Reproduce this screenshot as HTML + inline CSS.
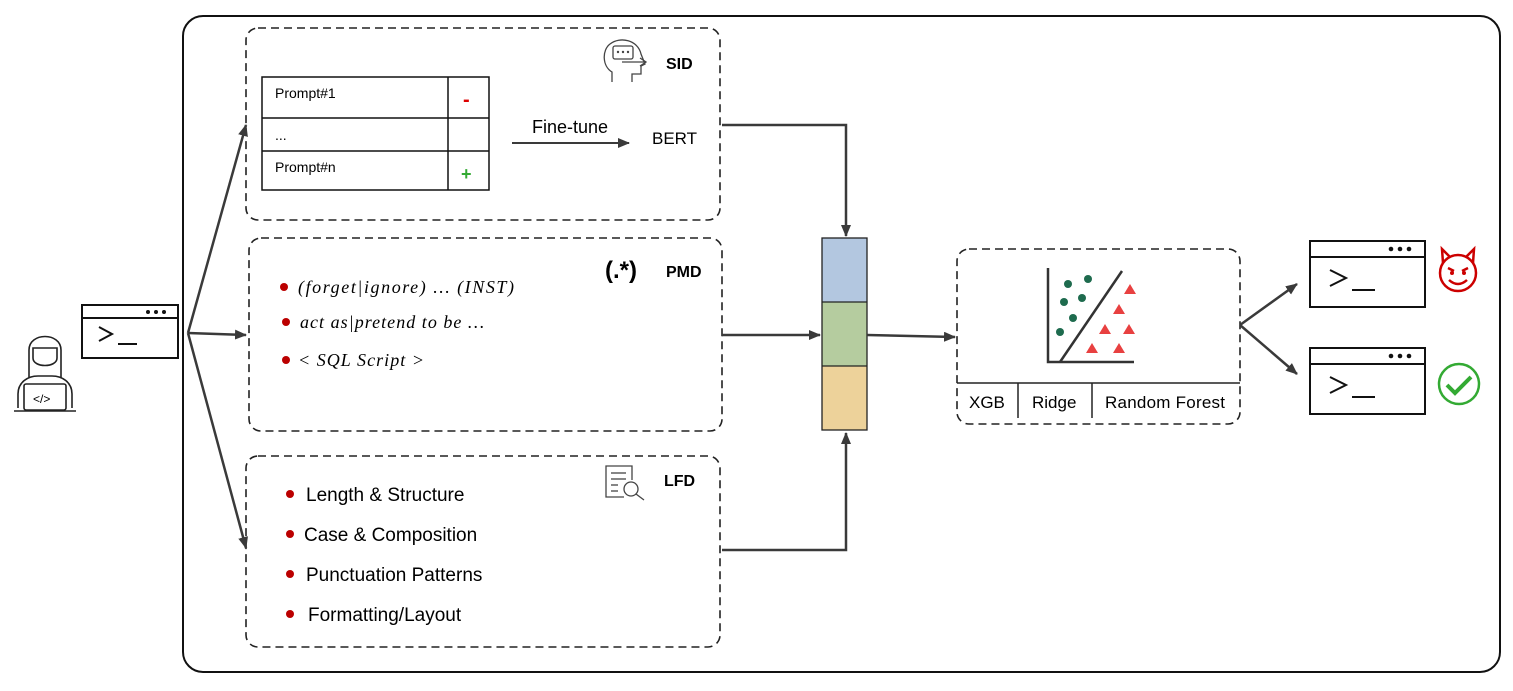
<!DOCTYPE html>
<html><head><meta charset="utf-8"><style>
html,body{margin:0;padding:0;background:#fff}
svg{display:block}
text{font-family:"Liberation Sans",sans-serif}
.it{font-family:"Liberation Serif",serif;font-style:italic;font-size:18px}
</style></head><body>
<svg width="1513" height="691" viewBox="0 0 1513 691" xmlns="http://www.w3.org/2000/svg">
<defs>
<marker id="a" markerWidth="12" markerHeight="10" refX="11" refY="5" orient="auto" markerUnits="userSpaceOnUse"><path d="M0,0 L12,5 L0,10 z" fill="#3a3a3a"/></marker>
</defs>
<rect x="183" y="16" width="1317" height="656" rx="20" fill="none" stroke="#111" stroke-width="2"/>
<g fill="none" stroke="#222" stroke-width="1.6" stroke-dasharray="8,5">
<rect x="246" y="28" width="474" height="192" rx="12"/>
<rect x="249" y="238" width="473" height="193" rx="12"/>
<rect x="246" y="456" width="474" height="191" rx="12"/>
<rect x="957" y="249" width="283" height="175" rx="12"/>
</g>
<!-- SID -->
<g fill="none" stroke="#111" stroke-width="1.5">
<rect x="262" y="77" width="227" height="113"/>
<line x1="262" y1="118" x2="489" y2="118"/><line x1="262" y1="151" x2="489" y2="151"/>
<line x1="448" y1="77" x2="448" y2="190"/>
</g>
<text x="275" y="98" font-size="14">Prompt#1</text>
<text x="275" y="140" font-size="14">...</text>
<text x="275" y="172" font-size="14">Prompt#n</text>
<text x="463" y="106" font-size="20" fill="#d00" font-weight="bold">-</text>
<text x="461" y="180" font-size="18" fill="#3a3" font-weight="bold">+</text>
<line x1="512" y1="143" x2="629" y2="143" stroke="#3a3a3a" stroke-width="2" marker-end="url(#a)"/>
<text x="532" y="133" font-size="18">Fine-tune</text>
<text x="652" y="144" font-size="17">BERT</text>
<g fill="none" stroke="#444" stroke-width="1.3">
<path d="M612,82 L612,72 C602,66 602,50 610,44 C620,36 638,40 641,54 L645,64 L641,66 L641,74 L632,74 L632,82"/>
<rect x="613" y="46" width="20" height="13" rx="2"/>
<path d="M622,62 L645,62 M640,58 L646,62 L640,66"/>
</g>
<g fill="#444"><circle cx="618" cy="52" r="1.2"/><circle cx="623" cy="52" r="1.2"/><circle cx="628" cy="52" r="1.2"/></g>
<text x="666" y="69" font-size="16" font-weight="bold">SID</text>
<!-- PMD -->
<text x="605" y="278" font-size="24" font-weight="bold">(.*)</text>
<text x="666" y="277" font-size="16" font-weight="bold">PMD</text>
<g fill="#b00"><circle cx="284" cy="287" r="4"/><circle cx="286" cy="322" r="4"/><circle cx="286" cy="360" r="4"/></g>
<text x="298" y="293" class="it" textLength="216">(forget|ignore)  … (INST)</text>
<text x="300" y="328" class="it" textLength="184">act as|pretend to be …</text>
<text x="298" y="366" class="it" textLength="126">&lt; SQL Script &gt;</text>
<!-- LFD -->
<g fill="none" stroke="#444" stroke-width="1.3">
<path d="M624,497 L606,497 L606,466 L632,466 L632,480"/>
<line x1="611" y1="473" x2="626" y2="473"/><line x1="611" y1="479" x2="626" y2="479"/><line x1="611" y1="485" x2="618" y2="485"/><line x1="611" y1="491" x2="618" y2="491"/>
<circle cx="631" cy="489" r="7"/><line x1="636" y1="494" x2="644" y2="500"/>
</g>
<text x="664" y="486" font-size="16" font-weight="bold">LFD</text>
<g fill="#b00"><circle cx="290" cy="494" r="4"/><circle cx="290" cy="534" r="4"/><circle cx="290" cy="574" r="4"/><circle cx="290" cy="614" r="4"/></g>
<g font-size="19"><text x="306" y="501">Length &amp; Structure</text><text x="304" y="541">Case &amp; Composition</text><text x="306" y="581">Punctuation Patterns</text><text x="308" y="621">Formatting/Layout</text></g>
<!-- vector -->
<rect x="822" y="238" width="45" height="64" fill="#b3c7e0"/>
<rect x="822" y="302" width="45" height="64" fill="#b5cc9f"/>
<rect x="822" y="366" width="45" height="64" fill="#edd29a"/>
<g fill="none" stroke="#222" stroke-width="1.3"><rect x="822" y="238" width="45" height="192"/><line x1="822" y1="302" x2="867" y2="302"/><line x1="822" y1="366" x2="867" y2="366"/></g>
<g fill="none" stroke="#3a3a3a" stroke-width="2.5">
<path d="M722,125 L846,125 L846,236" marker-end="url(#a)"/>
<path d="M722,335 L820,335" marker-end="url(#a)"/>
<path d="M722,550 L846,550 L846,433" marker-end="url(#a)"/>
<path d="M867,335 L955,337" marker-end="url(#a)"/>
<path d="M188,333 L246,125" marker-end="url(#a)"/>
<path d="M188,333 L246,335" marker-end="url(#a)"/>
<path d="M188,333 L246,548" marker-end="url(#a)"/>
<path d="M1240,325 L1297,284" marker-end="url(#a)"/>
<path d="M1240,325 L1297,374" marker-end="url(#a)"/>
</g>
<!-- classifier -->
<g stroke="#333" stroke-width="2.5" fill="none"><path d="M1048,268 L1048,362 L1134,362"/><line x1="1060" y1="362" x2="1122" y2="271"/></g>
<g fill="#1e6b4e"><circle cx="1068" cy="284" r="4"/><circle cx="1088" cy="279" r="4"/><circle cx="1064" cy="302" r="4"/><circle cx="1082" cy="298" r="4"/><circle cx="1073" cy="318" r="4"/><circle cx="1060" cy="332" r="4"/></g>
<g fill="#e84040"><path d="M1130,284 l6,10 h-12z"/><path d="M1119,304 l6,10 h-12z"/><path d="M1105,324 l6,10 h-12z"/><path d="M1129,324 l6,10 h-12z"/><path d="M1092,343 l6,10 h-12z"/><path d="M1119,343 l6,10 h-12z"/></g>
<g stroke="#222" stroke-width="1.5"><line x1="957" y1="383" x2="1240" y2="383"/><line x1="1018" y1="383" x2="1018" y2="418"/><line x1="1092" y1="383" x2="1092" y2="418"/></g>
<g font-size="17"><text x="969" y="408">XGB</text><text x="1032" y="408">Ridge</text><text x="1105" y="408" textLength="120">Random Forest</text></g>
<!-- terminals -->
<g fill="none" stroke="#111" stroke-width="2">
<rect x="82" y="305" width="96" height="53"/><line x1="82" y1="318" x2="178" y2="318"/>
<path d="M99,327 L112,334 L99,341"/><line x1="118" y1="344" x2="137" y2="344"/>
</g>
<g fill="#111"><circle cx="148" cy="312" r="2"/><circle cx="156" cy="312" r="2"/><circle cx="164" cy="312" r="2"/></g>
<g fill="none" stroke="#111" stroke-width="2">
<rect x="1310" y="241" width="115" height="66"/><line x1="1310" y1="257" x2="1425" y2="257"/>
<path d="M1330,270 L1346,278 L1330,286"/><line x1="1352" y1="290" x2="1375" y2="290"/>
<rect x="1310" y="348" width="115" height="66"/><line x1="1310" y1="364" x2="1425" y2="364"/>
<path d="M1330,377 L1346,385 L1330,393"/><line x1="1352" y1="397" x2="1375" y2="397"/>
</g>
<g fill="#111"><circle cx="1391" cy="249" r="2.3"/><circle cx="1400" cy="249" r="2.3"/><circle cx="1409" cy="249" r="2.3"/><circle cx="1391" cy="356" r="2.3"/><circle cx="1400" cy="356" r="2.3"/><circle cx="1409" cy="356" r="2.3"/></g>
<!-- devil -->
<g fill="none" stroke="#c00" stroke-width="2.5">
<circle cx="1458" cy="273" r="18"/><path d="M1443,263 L1442,249 L1450,257 M1473,263 L1474,249 L1466,257"/>
<path d="M1449,280 Q1458,288 1467,280"/><path d="M1448,268 L1454,271 M1468,268 L1462,271"/>
</g>
<g fill="#c00"><circle cx="1452" cy="273" r="2"/><circle cx="1464" cy="273" r="2"/></g>
<g fill="none" stroke="#3a3" stroke-width="2.5"><circle cx="1459" cy="384" r="20"/><path d="M1447,385 L1455,393 L1471,377" stroke-width="4"/></g>
<!-- person -->
<g fill="none" stroke="#222" stroke-width="1.6">
<path d="M29,378 L29,350 C29,332 61,332 61,350 L61,378"/>
<path d="M33,348 L57,348 L57,358 C57,368 33,368 33,358 Z"/>
<path d="M18,408 L18,394 C18,382 28,376 38,376 L52,376 C62,376 72,382 72,394 L72,408"/>
<rect x="24" y="384" width="42" height="26" rx="2"/>
<line x1="14" y1="411" x2="76" y2="411"/>
</g>
<text x="33" y="403" font-size="12">&lt;/&gt;</text>
</svg>
</body></html>
